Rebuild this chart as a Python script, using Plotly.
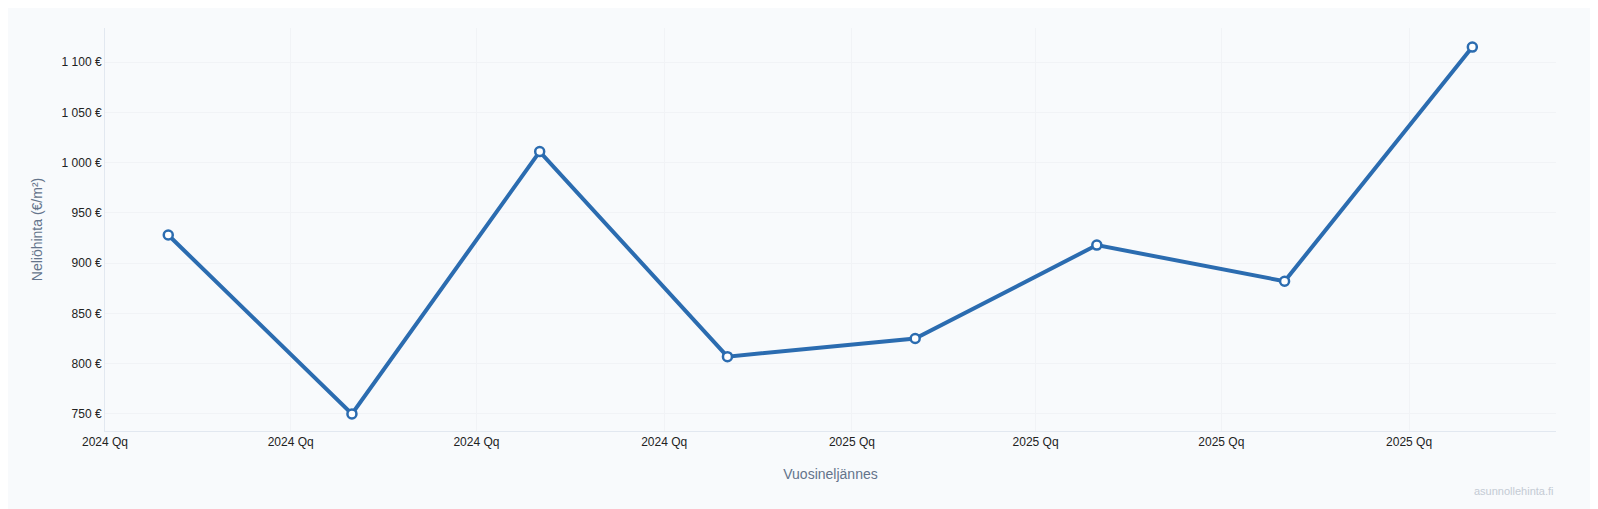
import plotly.graph_objects as go

quarters = ["2024-02-01", "2024-05-01", "2024-08-01", "2024-11-01",
            "2025-02-01", "2025-05-01", "2025-08-01", "2025-11-01"]
prices = [928, 750, 1011, 807, 825, 918, 882, 1115]

fig = go.Figure(go.Scatter(
    x=quarters, y=prices, mode="lines+markers",
    line=dict(color="#2b6cb0", width=4),
    marker=dict(size=9, color="white", line=dict(color="#2b6cb0", width=2.5)),
    hovertemplate="%{y:,.0f} €<extra></extra>",
))

fig.update_layout(
    width=1598, height=509,
    paper_bgcolor="#f8fafc", plot_bgcolor="#f8fafc",
    font=dict(family="Liberation Sans, Arial, sans-serif", size=12, color="#222"),
    separators=", ",
    showlegend=False,
    margin=dict(l=97, r=50, t=20, b=86),
    xaxis=dict(
        title=dict(text="Vuosineljännes", font=dict(size=14, color="#64748b"), standoff=20),
        type="date", range=["2024-01-01", "2025-12-12"],
        tick0="2024-01-01", dtick="M3", tickformat="%Y Qq",
        showgrid=True, gridcolor="#f1f3f6", showline=True, linecolor="#e2e8f0",
        zeroline=False, automargin=False,
    ),
    yaxis=dict(
        title=dict(text="Neliöhinta (€/m²)", font=dict(size=14, color="#64748b")),
        range=[733, 1134], dtick=50, tickformat=",d", ticksuffix=" €",
        showgrid=True, gridcolor="#f1f3f6", showline=True, linecolor="#e2e8f0",
        zeroline=False, automargin=False,
    ),
    annotations=[dict(text="asunnollehinta.fi", xref="paper", yref="paper",
                      x=1.0, y=-0.13, xanchor="right", yanchor="top", showarrow=False,
                      font=dict(size=11, color="#c4cbd4"))],
)

fig.write_html("out.html")
